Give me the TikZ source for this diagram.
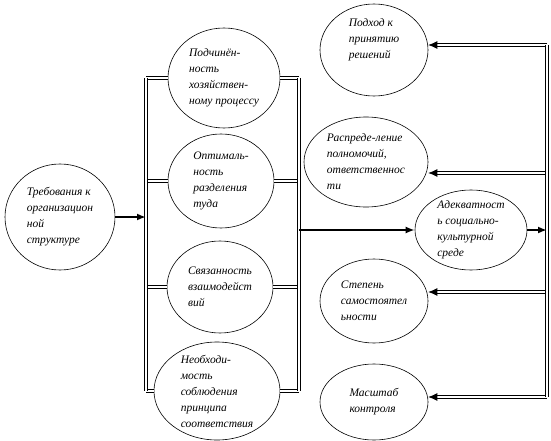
\documentclass[tikz,border=0pt]{standalone}
\usepackage{fontspec}
\setmainfont{Liberation Serif}
\usetikzlibrary{shapes.geometric,arrows.meta}

\begin{document}
\begin{tikzpicture}[x=1pt, y=-1pt,
    bubble/.style={ellipse, draw, line width=0.6pt, inner sep=-8pt, align=left,
        font=\fontsize{11.5}{16}\selectfont\itshape},
    bus/.style={draw, line width=0.8pt, double, double distance=2pt},
    feed/.style={line width=1.8pt, -{Latex[length=9pt,width=7pt]}},
    back/.style={bus, -{Latex[length=9pt,width=8pt]}}]
    \useasboundingbox (0,0) rectangle (551,441);
    % left
    \node[bubble, minimum width=110pt, minimum height=106pt] (req) at (60,217)
        {Требования к\\организацион\\ной\\структуре};
    % middle column
    \node[bubble, minimum width=112pt, minimum height=100pt] (podch) at (224,78)
        {Подчинён-\\ность\\хозяйствен-\\ному процессу};
    \node[bubble, minimum width=106pt, minimum height=94pt] (optim) at (221,181)
        {Оптималь-\\ность\\разделения\\туда};
    \node[bubble, minimum width=106pt, minimum height=92pt] (svyaz) at (220,287)
        {Связанность\\взаимодейст\\вий};
    \node[bubble, minimum width=126pt, minimum height=98pt] (neobh) at (217,391)
        {Необходи-\\мость\\соблюдения\\принципа\\соответствия};
    % right column
    \node[bubble, minimum width=108pt, minimum height=92pt] (podhod) at (374,50)
        {Подход к\\принятию\\решений\\[6pt]};
    \node[bubble, minimum width=124pt, minimum height=90pt] (raspr) at (366,162)
        {Распреде-ление\\полномочий,\\ответственнос\\ти};
    \node[bubble, minimum width=112pt, minimum height=80pt] (adekv) at (471,230)
        {Адекватност\\ь социально-\\культурной\\среде};
    \node[bubble, minimum width=108pt, minimum height=84pt] (stepen) at (374,301)
        {Степень\\самостоятел\\ьности};
    \node[bubble, minimum width=108pt, minimum height=76pt] (mashtab) at (374,402)
        {Масштаб\\контроля};

    \coordinate (lbus) at (146,0);
    \coordinate (rbus) at (299,0);
    \coordinate (fbus) at (547,0);
    \coordinate (in1) at (547,45);
    \coordinate (in2) at (547,173);
    \coordinate (in3) at (547,292);
    \coordinate (in4) at (547,397);

    % branches of the two buses
    \draw[bus] (lbus |- podch.west) -- (podch.west);
    \draw[bus] (lbus |- optim.west) -- (optim.west);
    \draw[bus] (lbus |- svyaz.west) -- (svyaz.west);
    \draw[bus] (lbus |- neobh.west) -- (neobh.west);
    \draw[bus] (podch.east) -- (rbus |- podch.east);
    \draw[bus] (optim.east) -- (rbus |- optim.east);
    \draw[bus] (svyaz.east) -- (rbus |- svyaz.east);
    \draw[bus] (neobh.east) -- (rbus |- neobh.east);
    \draw[bus] (lbus |- podch.west) -- (lbus |- neobh.west);
    \draw[bus] (rbus |- podch.east) -- (rbus |- neobh.east);

    \draw[feed] (req.east) -- (lbus |- req.east);
    \draw[feed] (rbus |- adekv.west) -- (adekv.west);
    \draw[feed] (adekv.east) -- (fbus |- adekv.east);

    % return arrows
    \draw[back] (in1) -- (in1 -| podhod.east);
    \draw[back] (in2) -- (in2 -| raspr.east);
    \draw[back] (in3) -- (in3 -| stepen.east);
    \draw[back] (in4) -- (in4 -| mashtab.east);
    \draw[bus] (in1) -- (in4);
\end{tikzpicture}
\end{document}
